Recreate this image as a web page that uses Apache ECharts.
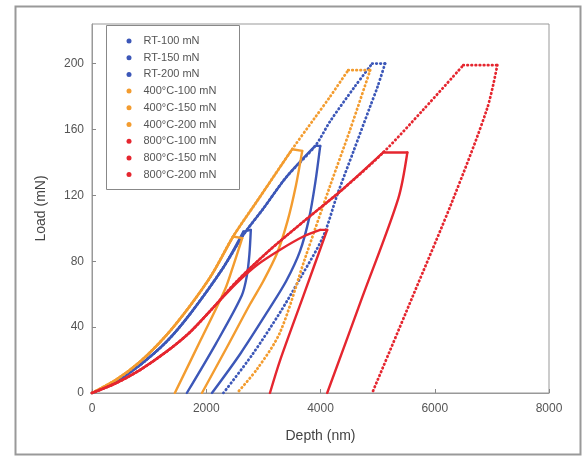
<!DOCTYPE html>
<html>
<head>
<meta charset="utf-8">
<script src="https://cdn.jsdelivr.net/npm/echarts@6/dist/echarts.min.js"></script>
<style>html,body{margin:0;padding:0;background:#fff}#c{width:586px;height:456px}</style>
</head>
<body>
<div id="c"></div>
<script>
// Depth (nm), Load (mN) pairs: loading branch and unloading branch of each curve
var rt100Load = [[0,0],[420,7],[841,17],[1300,31],[1717,48],[2295,76],[2650,98]];
var rt100Unload = [[2780,99],[2755,84],[2710,71],[2620,59],[2170,30],[1660,0]];
var rt150Load = [[0,0],[420,7],[841,17],[1300,31],[1717,48],[2295,76],[2650,96],[3000,112],[3400,131],[3907,150]];
var rt150Unload = [[3995,150],[3910,128],[3800,106],[3640,86],[3400,68],[3119,52],[2600,24],[2100,0]];
var rt200Load = [[0,0],[420,7],[841,17],[1300,31],[1717,48],[2295,76],[2650,96],[3000,112],[3400,131],[3907,150],[4170,165],[4600,186],[4905,200]];
var rt200Unload = [[5130,200],[5000,186],[4870,174],[4580,147],[4290,120],[4047,95],[3650,70],[3294,49],[2800,23],[2300,0]];
var c400_100Load = [[0,0],[420,8],[841,19],[1300,35],[1717,53],[2100,72],[2470,95]];
var c400_100Unload = [[2630,94],[2480,78],[2330,63],[1900,32],[1450,0]];
var c400_150Load = [[0,0],[420,8],[841,19],[1300,35],[1717,53],[2100,72],[2470,95],[2900,117],[3505,148]];
var c400_150Unload = [[3680,147],[3570,126],[3420,104],[3241,85],[3000,68],[2768,54],[2350,27],[1925,0]];
var c400_200Load = [[0,0],[420,8],[841,19],[1300,35],[1717,53],[2100,72],[2470,95],[2900,117],[3505,148],[3900,167],[4170,180],[4485,196]];
var c400_200Unload = [[4870,196],[4520,160],[4170,126],[3732,82],[3294,37],[2900,15],[2540,0]];
var c800_100Load = [[0,0],[420,6],[841,14],[1300,25],[1717,37],[2100,51],[2540,67],[2900,78],[3294,87],[3700,95],[3995,99]];
var c800_100Unload = [[4117,99],[3700,59],[3294,20],[3115,0]];
var c800_150Load = [[0,0],[420,6],[841,14],[1300,25],[1717,37],[2100,51],[2540,68],[3119,87],[3700,104],[4400,124],[5098,146]];
var c800_150Unload = [[5520,146],[5361,118],[4730,58],[4117,0]];
var c800_200Load = [[0,0],[420,6],[841,14],[1300,25],[1717,37],[2100,51],[2540,68],[3119,87],[3700,104],[4400,124],[5098,146],[5800,172],[6500,199]];
var c800_200Unload = [[7095,199],[6920,173],[6325,118],[5606,58],[4905,0]];

var names = ['RT-100 mN','RT-150 mN','RT-200 mN','400°C-100 mN','400°C-150 mN','400°C-200 mN','800°C-100 mN','800°C-150 mN','800°C-200 mN'];
var loads = [rt100Load, rt150Load, rt200Load, c400_100Load, c400_150Load, c400_200Load, c800_100Load, c800_150Load, c800_200Load];
var unloads = [rt100Unload, rt150Unload, rt200Unload, c400_100Unload, c400_150Unload, c400_200Unload, c800_100Unload, c800_150Unload, c800_200Unload];
var xTicks = {min:0, max:8000, interval:2000};
var yTicks = {min:0, max:224, interval:40};

var BLUE = '#3c57b8', ORANGE = '#f39c2f', RED = '#e5262f';
var colors = [BLUE, BLUE, BLUE, ORANGE, ORANGE, ORANGE, RED, RED, RED];
var dotted = [false, false, true, false, false, true, false, false, true];

function mk(name, data, i, smooth) {
  return {
    name: name, type: 'line', data: data, showSymbol: false, symbol: 'circle',
    smooth: smooth ? 0.3 : false,
    itemStyle: {color: colors[i]},
    lineStyle: dotted[i]
      ? {color: colors[i], width: 2.8, type: [0.5, 3.6], cap: 'round'}
      : {color: colors[i], width: 2.4, cap: 'round', join: 'round'},
    animation: false, silent: true
  };
}
var series = [];
names.forEach(function (n, i) {
  var L = loads[i], U = unloads[i];
  series.push(mk(n, L, i, true));
  series.push(mk(n, [L[L.length - 1], U[0]], i, false));
  series.push(mk(n, U, i, true));
});

var chart = echarts.init(document.getElementById('c'), null, {renderer: 'canvas'});
var font = 'Liberation Sans, Arial, Helvetica, sans-serif';
chart.setOption({
  backgroundColor: '#fff',
  animation: false,
  textStyle: {fontFamily: font},
  grid: {left: 92, right: 37, top: 24, bottom: 63, show: true, borderColor: '#999', borderWidth: 1},
  xAxis: {
    type: 'value', min: xTicks.min, max: xTicks.max, interval: xTicks.interval,
    name: 'Depth (nm)', nameLocation: 'middle', nameGap: 36,
    nameTextStyle: {fontSize: 14, color: '#444', fontFamily: font},
    axisLine: {show: true, lineStyle: {color: '#999'}},
    axisTick: {show: true, inside: true, length: 4, lineStyle: {color: '#888'}},
    axisLabel: {fontSize: 12, color: '#555', margin: 10, fontFamily: font, formatter: function (v) { return String(v); }},
    splitLine: {show: false}
  },
  yAxis: {
    type: 'value', min: yTicks.min, max: yTicks.max, interval: yTicks.interval,
    name: 'Load (mN)', nameLocation: 'middle', nameGap: 44,
    nameTextStyle: {fontSize: 14, color: '#444', fontFamily: font},
    axisLine: {show: true, lineStyle: {color: '#999'}},
    axisTick: {show: true, inside: true, length: 4, lineStyle: {color: '#888'}},
    axisLabel: {fontSize: 12, color: '#555', margin: 8, showMaxLabel: false, fontFamily: font, formatter: function (v) { return String(v); }},
    splitLine: {show: false}
  },
  legend: {
    data: names, orient: 'vertical', left: 121.5, top: 30,
    icon: 'circle', itemWidth: 5, itemHeight: 5, itemGap: 4.7,
    itemStyle: {borderWidth: 0},
    selectedMode: false,
    textStyle: {fontSize: 11, color: '#555', lineHeight: 12, padding: [0, 0, 0, 7], fontFamily: font}
  },
  graphic: [
    {type: 'rect', left: 13, top: 4, shape: {width: 565, height: 448}, style: {fill: 'none', stroke: '#999', lineWidth: 2}, silent: true},
    {type: 'rect', left: 104, top: 23, shape: {width: 133, height: 164}, style: {fill: 'none', stroke: '#888', lineWidth: 1}, silent: true, z: 10}
  ],
  series: series
});
</script>
</body>
</html>
